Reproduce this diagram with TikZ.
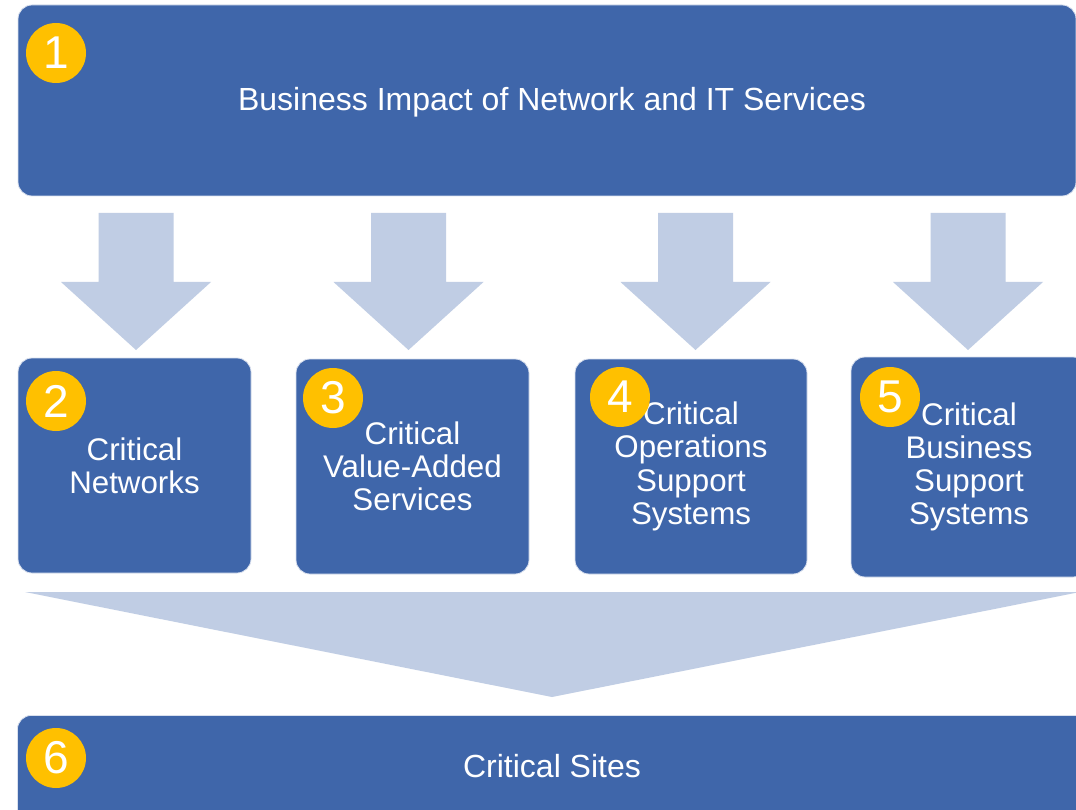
\documentclass[tikz,border=0pt]{standalone}
\usepackage{fontspec}
\setmainfont{Liberation Sans}
\definecolor{boxblue}{HTML}{3F66AA}
\definecolor{arrowblue}{HTML}{C0CDE4}
\definecolor{badgeyellow}{HTML}{FFC000}
\begin{document}
\begin{tikzpicture}[x=1pt,y=-1pt,
  bluebox/.style={fill=boxblue, draw=white!80!boxblue, line width=0.8pt, rounded corners=14pt,
    text=white, align=center, inner sep=0pt, font=\fontsize{31.3}{33.2}\selectfont},
  bigarrow/.style={fill=arrowblue, draw=none},
  badge/.style={circle, fill=badgeyellow, draw=none, minimum size=60pt, inner sep=0pt,
    text=white, font=\fontsize{46}{46}\selectfont},
  boxtext/.style={text=white, align=center, inner sep=0pt, font=\fontsize{32}{34}\selectfont}]
\useasboundingbox (0,0) rectangle (1076,810);
\clip (0,0) rectangle (1076,810);
\fill[white] (0,0) rectangle (1076,810);

% top box
\node[bluebox, minimum width=1058pt, minimum height=191pt] (b1) at (547,100.5) {};
\node[boxtext] (t1) at (552,102) {Business Impact of Network and IT Services};

% down arrows
\foreach \c in {136,408.5,695.5,968}{
  \fill[bigarrow] ({\c-37.5},213) -- ({\c+37.5},213) -- ({\c+37.5},282) -- ({\c+75},282)
    -- (\c,350) -- ({\c-75},282) -- ({\c-37.5},282) -- cycle;
}

% middle boxes
\node[bluebox, minimum width=233pt, minimum height=215pt] (b2) at (134.5,465.5) {Critical\\Networks};
\node[bluebox, minimum width=233pt, minimum height=215pt] (b3) at (412.5,466.5) {Critical\\Value-Added\\Services};
\node[bluebox, minimum width=232pt, minimum height=215pt] (b4) at (691,466.5) {Critical\\Operations\\Support\\Systems};
\node[bluebox, minimum width=236pt, minimum height=220pt] (b5) at (969,467) {Critical\\Business\\Support\\Systems};

% converging chevron
\fill[bigarrow] (25,592) -- (1080,592) -- (552,697) -- cycle;

% bottom box
\node[bluebox, minimum width=1090pt, minimum height=130pt, anchor=north west] (b6) at (17,715) {};
\node[boxtext] (t6) at (552,766) {Critical Sites};

% badges
\node[badge] (n1) at (56,53) {1};
\node[badge] (n2) at (56,401) {2};
\node[badge] (n3) at (333,398) {3};
\node[badge] (n4) at (620,397) {4};
\node[badge] (n5) at (890,397) {5};
\node[badge] (n6) at (56,758) {6};
\end{tikzpicture}
\end{document}
